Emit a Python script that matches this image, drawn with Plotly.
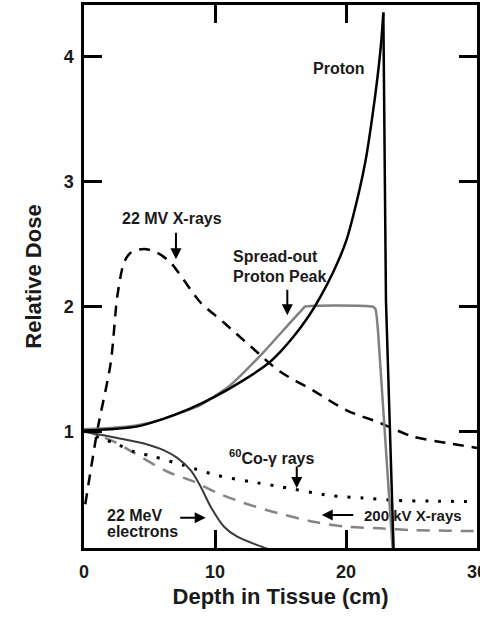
import plotly.graph_objects as go

# ---- data ----
proton_x = [0, 2, 4, 6, 8, 10, 12, 14, 15, 16, 17, 18, 19, 20, 21, 21.5, 22, 22.4, 22.7, 22.85, 23.05, 23.65]
proton_y = [1.01, 1.02, 1.04, 1.10, 1.18, 1.28, 1.40, 1.54, 1.64, 1.76, 1.90, 2.07, 2.27, 2.52, 2.92, 3.17, 3.51, 3.83, 4.13, 4.35, 2.05, 0.0]
PEAK = 19  # index of the Bragg peak

sobp_x = [0, 2, 4, 6, 7.33, 8.85, 11.15, 13.66, 15.73, 16.6, 16.9, 22.0, 22.25, 22.44, 23.6]
sobp_y = [1.02, 1.03, 1.05, 1.10, 1.15, 1.21, 1.37, 1.63, 1.87, 1.97, 2.0, 2.0, 1.98, 1.81, 0.0]

mv22_x = [0.1, 1.02, 2.04, 2.54, 3.05, 3.56, 4.58, 5.6, 6.62, 7.63, 8.91, 10.69, 12.73, 14.96, 17.48, 20.05, 22.6, 25.11, 27.69, 30]
mv22_y = [0.42, 1.01, 1.55, 2.08, 2.35, 2.43, 2.46, 2.43, 2.35, 2.21, 2.03, 1.87, 1.68, 1.48, 1.33, 1.17, 1.07, 0.96, 0.91, 0.87]

co60_x = [0, 1.22, 2.29, 3.82, 5.34, 7.63, 10.18, 12.73, 14.96, 18.78, 21.3, 23.87, 26.41, 30]
co60_y = [1.01, 0.95, 0.91, 0.84, 0.80, 0.73, 0.65, 0.60, 0.56, 0.49, 0.47, 0.45, 0.445, 0.44]

kv200_x = [0, 2.29, 3.82, 6.36, 8.4, 10.18, 12.21, 14.76, 17.5, 20.05, 22.6, 25.14, 27.69, 30]
kv200_y = [1.01, 0.92, 0.83, 0.68, 0.60, 0.51, 0.43, 0.35, 0.28, 0.24, 0.227, 0.213, 0.208, 0.205]

elec_x = [0, 2.54, 4.58, 6.11, 7.12, 8.15, 8.91, 9.67, 10.69, 11.7, 13.23, 14.4]
elec_y = [1.0, 0.95, 0.905, 0.85, 0.79, 0.69, 0.56, 0.40, 0.24, 0.16, 0.093, 0.05]

x_ticks = [0, 10, 20, 30]
y_ticks = [1, 2, 3, 4]

FONT = "Liberation Sans, Arial, sans-serif"
TXT = "#1a1a1a"

fig = go.Figure()
fig.add_trace(go.Scatter(x=mv22_x, y=mv22_y, mode="lines", name="22 MV X-rays",
                         line=dict(color="black", width=2.5, dash="11px,8px", shape="spline", smoothing=0.8)))
fig.add_trace(go.Scatter(x=kv200_x, y=kv200_y, mode="lines", name="200 kV X-rays",
                         line=dict(color="#858585", width=2.5, dash="13px,9px", shape="spline", smoothing=0.8)))
fig.add_trace(go.Scatter(x=co60_x, y=co60_y, mode="lines", name="60Co-γ rays",
                         line=dict(color="black", width=3, dash="3px,10px", shape="spline", smoothing=0.8)))
fig.add_trace(go.Scatter(x=elec_x, y=elec_y, mode="lines", name="22 MeV electrons",
                         line=dict(color="#3a3a3a", width=2, shape="spline", smoothing=0.8)))
fig.add_trace(go.Scatter(x=sobp_x, y=sobp_y, mode="lines", name="Spread-out Proton Peak",
                         line=dict(color="#808080", width=2.5, shape="spline", smoothing=0.5)))
fig.add_trace(go.Scatter(x=proton_x[:PEAK + 1], y=proton_y[:PEAK + 1], mode="lines", name="Proton",
                         line=dict(color="black", width=2.5, shape="spline", smoothing=0.8)))
fig.add_trace(go.Scatter(x=proton_x[PEAK:], y=proton_y[PEAK:], mode="lines", name="Proton fall-off",
                         line=dict(color="black", width=2.5)))

afont = dict(family=FONT, size=16, color=TXT, weight="bold")

def label(text, x, y, xanchor="left", size=16):
    f = dict(afont)
    f["size"] = size
    fig.add_annotation(x=x, y=y, text=text, showarrow=False, xanchor=xanchor,
                       yanchor="middle", font=f)

def arrow(x, y, ax, ay):
    fig.add_annotation(x=x, y=y, text="", showarrow=True, ax=ax, ay=ay,
                       arrowhead=2, arrowsize=1.1, arrowwidth=2, arrowcolor="black")

label("Proton", 19.47, 3.90, xanchor="center")
label("22 MV X-rays", 6.72, 2.705, xanchor="center")
label("Spread-out", 11.2, 2.398)
label("Proton Peak", 11.2, 2.238)
label("<sup>60</sup>Co-γ rays", 10.95, 0.80)
label("200 kV X-rays", 21.25, 0.333, size=15)
label("22 MeV", 1.6, 0.333)
label("electrons", 1.6, 0.20)

arrow(7.02, 2.377, 0, -28)
arrow(15.52, 1.93, 0, -27)
arrow(16.24, 0.55, 0, -23)
arrow(18.15, 0.333, 33, 0)
arrow(9.29, 0.312, -27, 0)

axis_common = dict(showline=True, linecolor="black", linewidth=2.5, mirror="ticks",
                   ticks="inside", ticklen=18, tickwidth=2.5, tickcolor="black",
                   showgrid=False, zeroline=False, ticklabeloverflow="allow",
                   tickfont=dict(family=FONT, size=18, color=TXT, weight="bold"))

fig.update_xaxes(range=[0, 30], tickvals=x_ticks, ticktext=[str(v) for v in x_ticks],
                 ticklabelstandoff=6,
                 title=dict(text="Depth in Tissue (cm)", standoff=8,
                            font=dict(family=FONT, size=22, color=TXT, weight="bold")),
                 **axis_common)
fig.update_yaxes(range=[0.07, 4.41], tickvals=y_ticks, ticktext=[str(v) for v in y_ticks],
                 ticklabelstandoff=4,
                 title=dict(text="Relative Dose", standoff=16,
                            font=dict(family=FONT, size=22, color=TXT, weight="bold")),
                 **axis_common)

fig.update_layout(width=480, height=621, margin=dict(l=84, r=3, t=5, b=73, autoexpand=False),
                  paper_bgcolor="white", plot_bgcolor="white", showlegend=False)

fig.write_html("out.html")
